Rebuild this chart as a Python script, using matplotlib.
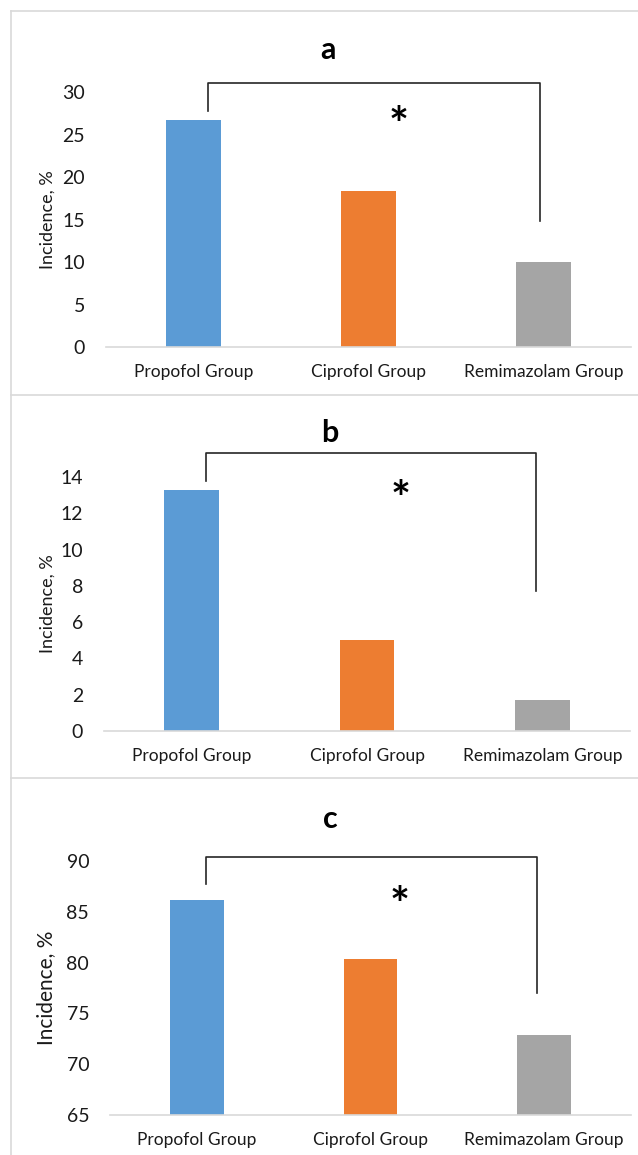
import matplotlib
matplotlib.use("Agg")
import matplotlib.pyplot as plt
from matplotlib.lines import Line2D

plt.rcParams["font.family"] = ["Lato", "DejaVu Sans"]

W, H = 638, 1155

groups = ["Propofol Group", "Ciprofol Group", "Remimazolam Group"]
colors = ["#5B9BD5", "#ED7D31", "#A5A5A5"]

# incidence (%) per group, one list per panel
values_a = [26.7, 18.3, 10.0]
values_b = [13.3, 5.0, 1.7]
values_c = [86.2, 80.4, 72.9]

ticks_a = [0, 5, 10, 15, 20, 25, 30]
ticks_b = [0, 2, 4, 6, 8, 10, 12, 14]
ticks_c = [65, 70, 75, 80, 85, 90]

# significance bracket: (left x, left end y, top y, right x, right end y)
bracket_a = (0.08, 27.8, 31.1, 1.98, 14.8)
bracket_b = (0.08, 13.8, 15.3, 1.965, 7.7)
bracket_c = (0.055, 87.7, 90.4, 1.96, 77.0)
star_a = (1.17, 27.5)
star_b = (1.19, 13.45)
star_c = (1.165, 86.85)

panels = [
    # name, values, ticks, bracket, star, axes box px (l, r, top, bottom), title px (x, baseline), ylabel size
    ("a", values_a, ticks_a, bracket_a, star_a, (106, 631, 92, 347), (328, 59), 13),
    ("b", values_b, ticks_b, bracket_b, star_b, (104, 630, 477, 731), (330, 442), 13),
    ("c", values_c, ticks_c, bracket_c, star_c, (110, 631, 861, 1115), (330, 828), 15),
]

fig = plt.figure(figsize=(W / 100, H / 100), dpi=100)

# panel frames (cropped on the right in the original)
border = "#d9d9d9"
for y in [11, 395, 778]:
    fig.add_artist(Line2D([11 / W, 1], [1 - y / H, 1 - y / H], color=border, lw=1.2))
fig.add_artist(Line2D([11 / W, 11 / W], [1 - 11 / H, 0], color=border, lw=1.2))

for name, vals, ticks, br, star, box, tpos, ylsize in panels:
    l, r, t, b = box
    ax = fig.add_axes([l / W, 1 - b / H, (r - l) / W, (b - t) / H])
    x = list(range(len(groups)))
    base = ticks[0]
    ax.bar(x, [v - base for v in vals], width=0.31, bottom=base, color=colors, zorder=2)
    ax.set_xlim(-0.5, 2.5)
    ax.set_ylim(ticks[0], ticks[-1])
    ax.set_yticks(ticks)
    ax.set_xticks(x)
    ax.set_xticklabels(groups, fontsize=12.5, color="#1a1a1a")
    ax.tick_params(axis="y", length=0, pad=15, labelsize=14, labelcolor="#1a1a1a")
    ax.tick_params(axis="x", length=0, pad=12)
    for s in ["top", "right", "left"]:
        ax.spines[s].set_visible(False)
    ax.spines["bottom"].set_color(border)
    ax.spines["bottom"].set_linewidth(1.2)
    ax.set_ylabel("Incidence, %", fontsize=ylsize, color="#1a1a1a")
    ax.yaxis.set_label_coords(-(l - 56) / (r - l), 0.5)

    x1, y1, ytop, x2, y2 = br
    ax.plot([x1, x1, x2, x2], [y1, ytop, ytop, y2], color="#262626", lw=1.2,
            clip_on=False, zorder=3)
    ax.annotate("*", xy=star, xytext=(0, -10), textcoords="offset points",
                fontsize=34, fontweight="bold", ha="center", va="center", color="black")

    fig.text(tpos[0] / W, 1 - tpos[1] / H, name, fontsize=22, fontweight="bold",
             ha="center", va="baseline")

fig.savefig("out.png", dpi=100, facecolor="white")
